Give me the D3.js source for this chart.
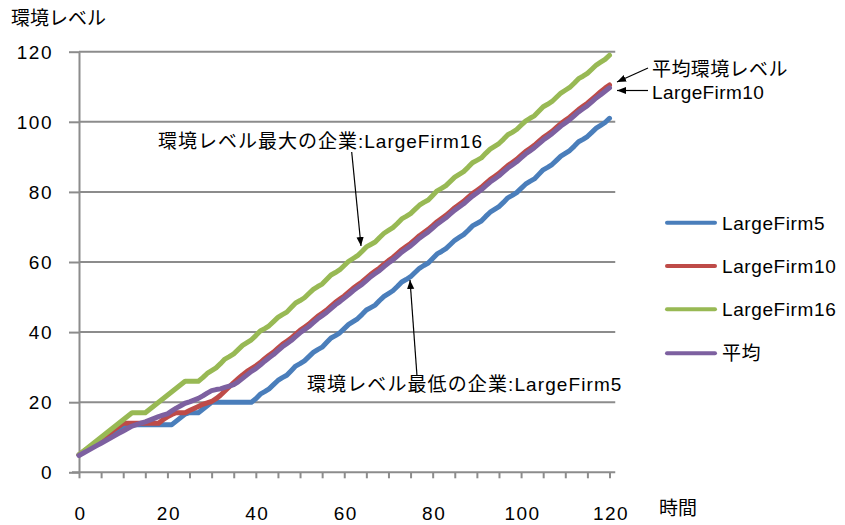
<!DOCTYPE html>
<html>
<head>
<meta charset="utf-8">
<script src="https://cdn.jsdelivr.net/npm/d3@7"></script>
<style>
  html, body { margin: 0; padding: 0; background: #fff; }
  svg { display: block; }
  text { font-family: "Liberation Sans", "Noto Sans CJK JP", sans-serif; fill: #000; }
</style>
</head>
<body>
<svg id="chart" width="845" height="525"></svg>
<script>
// Time steps 0..120 (categories on the x axis)
const steps = d3.range(0, 121);

const seriesNames = ["LargeFirm5", "LargeFirm10", "LargeFirm16", "平均"];
const seriesColors = ["#4a7ebb", "#be4b48", "#98b954", "#7d60a0"];

const largeFirm5 = [
  5, 5.8, 6.6, 7.4, 8, 8.6, 9.4, 10.2, 11, 11.8,
  12.6, 13.4, 13.6, 13.6, 13.6, 13.6, 13.6, 13.6, 13.6, 13.6,
  13.6, 13.6, 14.6, 15.6, 16.6, 17, 17, 17, 18, 19,
  20, 20, 20, 20, 20, 20, 20, 20, 20, 20,
  21, 22.3, 23, 23.8, 25, 26.2, 27, 27.7, 29, 30.3,
  31, 31.8, 33, 34.2, 35, 35.7, 37, 38.3, 39, 39.8,
  41, 42.2, 43, 43.8, 45, 46.3, 47, 47.7, 49, 50.2,
  51, 51.8, 53, 54.3, 55, 55.8, 57, 58.2, 59, 59.7,
  61, 62.3, 63, 63.8, 65, 66.2, 67, 67.8, 69, 70.3,
  71, 71.7, 73, 74.2, 75, 75.8, 77, 78.3, 79, 79.8,
  81, 82.2, 83, 83.7, 85, 86.3, 87, 87.8, 89, 90.2,
  91, 91.8, 93, 94.3, 95, 95.8, 97, 98.2, 99, 99.8,
  101
];

const largeFirm10 = [
  5, 5.9, 6.8, 7.7, 8.6, 9.5, 10.4, 11.3, 12.2, 13.1,
  14, 14, 14, 14, 14, 14, 14, 14, 14, 15,
  15.8, 16.5, 17, 17, 17, 17.6, 18.2, 18.8, 19.4, 19.8,
  20.2, 21, 22, 23.2, 24.4, 25.6, 26.7, 27.8, 28.8, 29.6,
  30.4, 31.3, 32.4, 33.4, 34.3, 35.4, 36.5, 37.4, 38.3, 39.4,
  40.5, 41.4, 42.3, 43.4, 44.5, 45.4, 46.3, 47.4, 48.5, 49.4,
  50.3, 51.4, 52.5, 53.4, 54.3, 55.4, 56.5, 57.4, 58.3, 59.4,
  60.4, 61.3, 62.4, 63.5, 64.4, 65.3, 66.4, 67.5, 68.4, 69.3,
  70.4, 71.5, 72.4, 73.3, 74.4, 75.5, 76.4, 77.3, 78.4, 79.5,
  80.4, 81.3, 82.4, 83.5, 84.4, 85.3, 86.4, 87.5, 88.4, 89.3,
  90.4, 91.5, 92.4, 93.3, 94.4, 95.5, 96.4, 97.3, 98.4, 99.5,
  100.4, 101.3, 102.4, 103.5, 104.4, 105.3, 106.4, 107.5, 108.6, 109.6,
  110.5
];

const largeFirm16 = [
  5, 6, 7, 8, 9, 10, 11, 12, 13, 14,
  15, 16, 17, 17, 17, 17, 18, 19, 20, 21,
  22, 23, 24, 25, 26, 26, 26, 26, 27, 28.2,
  29, 29.8, 31, 32.3, 33, 33.8, 35, 36.2, 37, 37.8,
  39, 40.3, 41, 41.8, 43, 44.2, 45, 45.7, 47, 48.3,
  49, 49.8, 51, 52.2, 53, 53.7, 55, 56.3, 57, 57.8,
  59, 60.2, 61, 61.8, 63, 64.3, 65, 65.7, 67, 68.2,
  69, 69.8, 71, 72.3, 73, 73.8, 75, 76.2, 77, 77.7,
  79, 80.3, 81, 81.8, 83, 84.2, 85, 85.8, 87, 88.3,
  89, 89.7, 91, 92.2, 93, 93.8, 95, 96.3, 97, 97.8,
  99, 100.2, 101, 101.7, 103, 104.3, 105, 105.8, 107, 108.2,
  109, 109.8, 111, 112.3, 113, 113.8, 115, 116.2, 117, 117.8,
  119
];

const average = [
  4.8, 5.5, 6.2, 6.9, 7.6, 8.3, 9, 9.7, 10.4, 11.1,
  11.8, 12.5, 13.2, 13.6, 14, 14.4, 14.9, 15.4, 15.9, 16.3,
  16.7, 17.5, 18.3, 19, 19.7, 20.1, 20.6, 21.1, 21.8, 22.6,
  23.3, 23.6, 23.8, 24.2, 24.6, 25, 25.8, 26.8, 27.8, 28.8,
  29.6, 30.6, 31.7, 32.7, 33.6, 34.7, 35.8, 36.7, 37.6, 38.7,
  39.8, 40.7, 41.6, 42.7, 43.8, 44.7, 45.6, 46.7, 47.8, 48.7,
  49.7, 50.7, 51.8, 52.7, 53.6, 54.7, 55.8, 56.7, 57.6, 58.7,
  59.7, 60.6, 61.7, 62.8, 63.7, 64.6, 65.7, 66.8, 67.7, 68.6,
  69.7, 70.8, 71.7, 72.6, 73.7, 74.8, 75.7, 76.6, 77.7, 78.8,
  79.7, 80.6, 81.7, 82.8, 83.7, 84.6, 85.7, 86.8, 87.7, 88.6,
  89.7, 90.8, 91.7, 92.6, 93.7, 94.8, 95.7, 96.6, 97.7, 98.8,
  99.7, 100.6, 101.7, 102.8, 103.7, 104.6, 105.7, 106.8, 107.7, 108.7,
  109.7
];

const yTicks = [0, 20, 40, 60, 80, 100, 120];
const xLabelTicks = [0, 20, 40, 60, 80, 100, 120];
const xMarkTicks = d3.range(0, 121, 5);

const yTitle = "環境レベル";
const xTitle = "時間";

const series = [largeFirm5, largeFirm10, largeFirm16, average].map((vals, i) => ({
  name: seriesNames[i],
  color: seriesColors[i],
  values: vals.map((v, j) => ({ t: steps[j], v: v }))
}));

const svg = d3.select("#chart");
const axisColor = "#8c8c8c";

const x = d3.scaleLinear().domain([0, 120]).range([79, 609.5]);
const y = d3.scaleLinear().domain([0, 120]).range([472.3, 51.7]);

// horizontal gridlines
svg.append("g")
  .selectAll("line")
  .data(yTicks.filter(d => d > 0))
  .join("line")
  .attr("x1", x(0)).attr("x2", x(121.3))
  .attr("y1", d => y(d)).attr("y2", d => y(d))
  .attr("stroke", axisColor).attr("stroke-width", 2);

// y axis
const yAxis = svg.append("g")
  .attr("transform", `translate(${x(0)},0)`)
  .call(d3.axisLeft(y).tickValues(yTicks).tickSize(10).tickSizeOuter(0).tickPadding(16));
yAxis.select(".domain").attr("stroke", axisColor).attr("stroke-width", 2);
yAxis.selectAll(".tick line").attr("stroke", axisColor).attr("stroke-width", 2);
yAxis.selectAll(".tick text")
  .style("font-size", "19px").style("letter-spacing", "1.5px")
  .attr("fill", "#000").attr("dy", "0.35em");

// x axis
const xAxis = svg.append("g")
  .attr("transform", `translate(0,${y(0)})`)
  .call(d3.axisBottom(x).tickValues(xMarkTicks).tickSize(6).tickSizeOuter(0).tickPadding(28)
    .tickFormat(d => xLabelTicks.includes(d) ? d : ""));
xAxis.select(".domain").remove();
xAxis.append("line")
  .attr("x1", x(0) - 7).attr("x2", x(121.3))
  .attr("y1", 0).attr("y2", 0)
  .attr("stroke", axisColor).attr("stroke-width", 2);
xAxis.selectAll(".tick line").attr("stroke", axisColor).attr("stroke-width", 2);
xAxis.selectAll(".tick text")
  .style("font-size", "19px").style("letter-spacing", "1.5px")
  .attr("fill", "#000").attr("dx", "1px");

// axis titles
svg.append("text").attr("x", 11).attr("y", 25).style("font-size", "19px").text(yTitle);
svg.append("text").attr("x", 659).attr("y", 515).style("font-size", "19px").text(xTitle);

// series lines
const line = d3.line().x(d => x(d.t)).y(d => y(d.v));
svg.append("g")
  .selectAll("path")
  .data(series)
  .join("path")
  .attr("d", d => line(d.values))
  .attr("fill", "none")
  .attr("stroke", d => d.color)
  .attr("stroke-width", 5)
  .attr("stroke-linejoin", "round")
  .attr("stroke-linecap", "round");

// legend
const legendRowsY = [222.7, 266, 309.3, 353.3];
const legend = svg.append("g")
  .selectAll("g")
  .data(series)
  .join("g")
  .attr("transform", (d, i) => `translate(0,${legendRowsY[i]})`);
legend.append("line")
  .attr("x1", 667).attr("x2", 715).attr("y1", 0).attr("y2", 0)
  .attr("stroke", d => d.color).attr("stroke-width", 4).attr("stroke-linecap", "round");
legend.append("text")
  .attr("x", 722).attr("y", 0).attr("dy", "0.36em")
  .style("font-size", "19px").style("letter-spacing", "0.6px")
  .text(d => d.name);

// annotations with arrows
const defs = svg.append("defs");
defs.append("marker")
  .attr("id", "arrowhead")
  .attr("viewBox", "0 0 10 10").attr("refX", 10).attr("refY", 5)
  .attr("markerWidth", 9).attr("markerHeight", 9)
  .attr("markerUnits", "userSpaceOnUse")
  .attr("orient", "auto")
  .append("path").attr("d", "M0,1 L10,5 L0,9 Z").attr("fill", "#000");

const notes = [
  { text: "環境レベル最大の企業:LargeFirm16", tx: 158, ty: 148, ls: 1, from: [351.7, 152], to: [361, 246] },
  { text: "環境レベル最低の企業:LargeFirm5", tx: 307, ty: 391, ls: 1.1, from: [417, 376], to: [410, 280] },
  { text: "平均環境レベル", tx: 652, ty: 76, ls: 0.4, from: [648, 68], to: [617, 82] },
  { text: "LargeFirm10", tx: 652, ty: 99, ls: 0.4, from: [648, 90.5], to: [617, 90.5] }
];
const noteG = svg.append("g");
noteG.selectAll("line")
  .data(notes)
  .join("line")
  .attr("x1", d => d.from[0]).attr("y1", d => d.from[1])
  .attr("x2", d => d.to[0]).attr("y2", d => d.to[1])
  .attr("stroke", "#000").attr("stroke-width", 1.2)
  .attr("marker-end", "url(#arrowhead)");
noteG.selectAll("text")
  .data(notes)
  .join("text")
  .attr("x", d => d.tx).attr("y", d => d.ty)
  .style("font-size", "19px").style("letter-spacing", d => d.ls + "px")
  .text(d => d.text);
</script>
</body>
</html>
